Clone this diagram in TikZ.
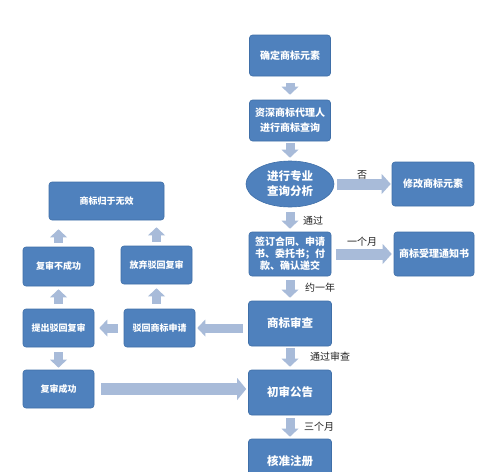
\documentclass[tikz,border=0pt]{standalone}
\usepackage{fontspec}
\setmainfont{Noto Sans CJK SC}
\usetikzlibrary{shapes.geometric,arrows.meta}
\definecolor{boxc}{HTML}{4F81BD}
\definecolor{boxd}{HTML}{3F6FA8}
\definecolor{arrc}{HTML}{A8BBD9}
\definecolor{labc}{HTML}{222222}
\tikzset{
  box/.style={draw=boxd, line width=0.6pt, fill=boxc, rounded corners=3pt, text=white,
    inner sep=0pt, align=center, font=\fontsize{10}{15}\selectfont\bfseries},
  lbox/.style={box, font=\fontsize{9}{12}\selectfont\bfseries},
  bigtext/.style={font=\fontsize{11.5}{15}\selectfont\bfseries},
  oval/.style={box, ellipse, rounded corners=0pt},
  sarr/.style={draw=arrc, line width=9pt, -{Triangle[width=17pt,length=8pt,line width=0pt]}},
  marr/.style={draw=arrc, line width=11pt, -{Triangle[width=20pt,length=9pt,line width=0pt]}},
  barr/.style={draw=arrc, line width=12pt, -{Triangle[width=22pt,length=9pt,line width=0pt]}},
  lab/.style={text=labc, inner sep=0pt, font=\fontsize{10}{12}\selectfont},
}
\begin{document}
\begin{tikzpicture}[x=1pt,y=-1pt]
\useasboundingbox (0,0) rectangle (500,471);
\clip (0,0) rectangle (500,471);
\fill[white] (0,0) rectangle (500,471);
% main column
\node[box, minimum width=81pt, minimum height=41pt] (qd) at (290,55.5) {确定商标元素};
\node[box, minimum width=81pt, minimum height=41pt] (zs) at (290,120.5) {资深商标代理人\\进行商标查询};
\node[oval, bigtext, minimum width=88pt, minimum height=46pt] (fx) at (290,184) {进行专业\\查询分析};
\node[box, minimum width=82pt, minimum height=44pt] (xg) at (433,184) {修改商标元素};
\node[box, font=\fontsize{10}{12}\selectfont\bfseries, minimum width=82pt, minimum height=44pt] (qy) at (290,254) {签订合同、申请\\书、委托书；付\\款、确认递交};
\node[box, minimum width=80pt, minimum height=44pt] (sl) at (434,254) {商标受理通知书};
\node[box, bigtext, minimum width=83pt, minimum height=45pt] (sc) at (290,323.5) {商标审查};
\node[box, bigtext, minimum width=83pt, minimum height=45pt] (cs) at (290,392.5) {初审公告};
\node[box, bigtext, minimum width=83pt, minimum height=45pt] (hz) at (290,461.5) {核准注册};
% left side
\node[lbox, minimum width=115pt, minimum height=38pt] (wx) at (106.5,201) {商标归于无效};
\node[lbox, minimum width=71pt, minimum height=39pt] (fbc) at (58.5,266.5) {复审不成功};
\node[lbox, minimum width=71pt, minimum height=38pt] (fq) at (156.5,265) {放弃驳回复审};
\node[lbox, minimum width=71pt, minimum height=38pt] (tc) at (58.5,328) {提出驳回复审};
\node[lbox, minimum width=71pt, minimum height=38pt] (bh) at (159.5,328) {驳回商标申请};
\node[lbox, minimum width=71pt, minimum height=38pt] (fcg) at (58.5,389) {复审成功};
% main column arrows
\draw[sarr, shorten <=7pt, shorten >=5pt] (qd.south) -- (zs.north);
\draw[sarr, shorten <=2pt, shorten >=3pt] (zs.south) -- (fx.north);
\draw[sarr, shorten <=5pt, shorten >=3pt] (fx.south) -- (qy.north);
\draw[sarr, shorten <=4pt, shorten >=3pt] (qy.south) -- (sc.north);
\draw[sarr, shorten <=2pt, shorten >=3pt] (sc.south) -- (cs.north);
\draw[sarr, shorten <=3pt, shorten >=2pt] (cs.south) -- (hz.north);
\draw[marr, shorten <=3pt, shorten >=1pt] (fx.east) -- (xg.west);
\draw[marr, shorten <=5pt, shorten >=2pt] (qy.east) -- (sl.west);
% left arrows
\draw[sarr, shorten <=5pt, shorten >=2pt] (sc.west |- bh.east) -- (bh.east);
\draw[sarr, shorten <=6pt, shorten >=5pt] (bh.west) -- (tc.east);
\draw[barr, shorten <=7pt, shorten >=2pt] (fcg.east) -- (fcg.east -| cs.west);
\draw[sarr, shorten <=4pt, shorten >=9pt] (fbc.north) -- (fbc.north |- wx.south);
\draw[sarr, shorten <=4pt, shorten >=7pt] (fq.north) -- (fq.north |- wx.south);
\draw[sarr, shorten <=5pt, shorten >=3pt] (tc.north) -- (fbc.south);
\draw[sarr, shorten <=5pt, shorten >=4pt] (fq.south |- bh.north) -- (fq.south);
\draw[sarr, shorten <=5pt, shorten >=2pt] (tc.south) -- (fcg.north);
% labels
\node[lab] (l1) at (362,175) {否};
\node[lab] (l2) at (313,221) {通过};
\node[lab] (l3) at (362,242) {一个月};
\node[lab] (l4) at (320,288) {约一年};
\node[lab] (l5) at (330,357) {通过审查};
\node[lab] (l6) at (319,427) {三个月};
\end{tikzpicture}
\end{document}
